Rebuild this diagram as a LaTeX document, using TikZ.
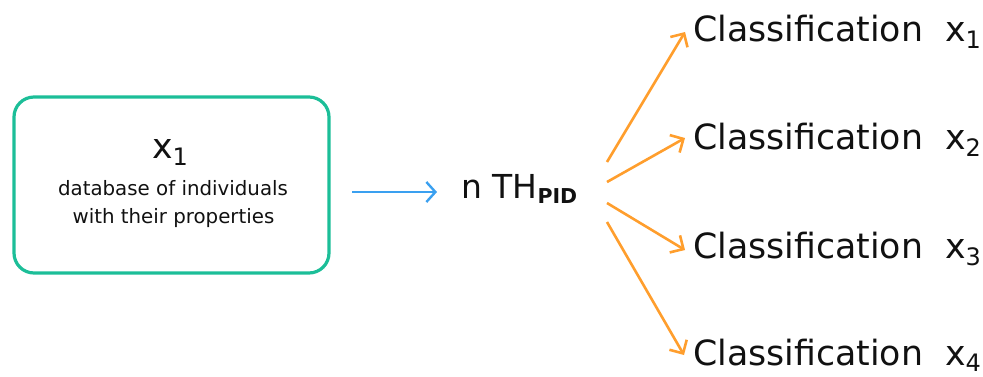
\documentclass[tikz,border=0pt]{standalone}
\usepackage{fontspec}
\setmainfont{DejaVu Sans}
\usetikzlibrary{arrows.meta}
\definecolor{boxteal}{RGB}{28,190,152}
\definecolor{arrorange}{RGB}{255,158,45}
\definecolor{arrblue}{RGB}{58,160,240}
\definecolor{ink}{RGB}{17,17,17}
\tikzset{
  txt/.style={inner sep=0pt, anchor=base west, text=ink},
  bigtxt/.style={txt, font=\fontsize{34.75}{40}\selectfont},
  smalltxt/.style={inner sep=0pt, anchor=base, text=ink, font=\fontsize{19.8}{24}\selectfont},
  dbbox/.style={draw=boxteal, line width=3.2pt, rounded corners=20pt, minimum width=315pt, minimum height=176pt, inner sep=0pt},
  orangearrow/.style={draw=arrorange, line width=2.6pt, -{Straight Barb[length=10pt,width=20pt]}},
  bluearrow/.style={draw=arrblue, line width=2.4pt, -{Straight Barb[length=9pt,width=20pt]}}
}
\newcommand{\subone}[2]{\raisebox{-7pt}{\fontsize{#1}{#1}\selectfont #2}}
\begin{document}
\begin{tikzpicture}[x=1pt,y=-1pt]
\path[use as bounding box] (0,0) rectangle (983,376);
% database box
\node[dbbox] (db) at (171.5,185) {};
\node[txt, font=\fontsize{34.75}{40}\selectfont, anchor=base] (dbx) at (170,158) {x\subone{24}{1}};
\node[smalltxt] (dbl1) at (173,195) {database of individuals};
\node[smalltxt] (dbl2) at (173.5,223) {with their properties};
% TH node
\node[txt, font=\fontsize{33}{40}\selectfont] (th) at (461,198) {n TH\raisebox{-5pt}{\fontsize{20.5}{20}\selectfont\bfseries PID}};
% classification nodes
\node[bigtxt] (c1) at (693,41) {Classification\hspace{22pt}x\subone{24}{1}};
\node[bigtxt] (c2) at (693,149.5) {Classification\hspace{22pt}x\subone{24}{2}};
\node[bigtxt] (c3) at (693,258) {Classification\hspace{22pt}x\subone{24}{3}};
\node[bigtxt] (c4) at (693,365) {Classification\hspace{22pt}x\raisebox{-6pt}{\fontsize{24}{24}\selectfont 4}};
% connector coordinates
\coordinate (bs) at (352,192);
\coordinate (be) at (437,192);
\coordinate (s1) at (607,162);
\coordinate (s2) at (607,182);
\coordinate (s3) at (607,203);
\coordinate (s4) at (607,222);
\coordinate (t1) at (685,32);
\coordinate (t2) at (685,138);
\coordinate (t3) at (685,250);
\coordinate (t4) at (684,355);
\draw[bluearrow] (bs) -- (be);
\draw[orangearrow] (s1) -- (t1);
\draw[orangearrow] (s2) -- (t2);
\draw[orangearrow] (s3) -- (t3);
\draw[orangearrow] (s4) -- (t4);
\end{tikzpicture}
\end{document}
